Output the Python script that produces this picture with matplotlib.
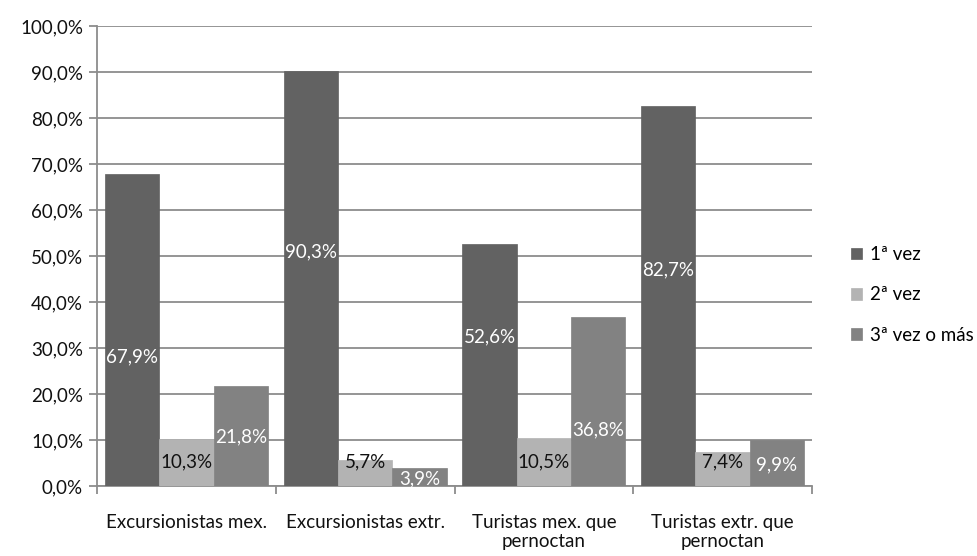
import matplotlib
matplotlib.use("Agg")
import matplotlib.pyplot as plt
import numpy as np

categories = ["Excursionistas mex.", "Excursionistas extr.", "Turistas mex. que\npernoctan", "Turistas extr. que\npernoctan"]
series_names = ["1ª vez", "2ª vez", "3ª vez o más"]
primera = [67.9, 90.3, 52.6, 82.7]
segunda = [10.3, 5.7, 10.5, 7.4]
tercera = [21.8, 3.9, 36.8, 9.9]
yticks = [0, 10, 20, 30, 40, 50, 60, 70, 80, 90, 100]

# label vertical placement (as in reference, data units)
label_pos = [
    [28.0, 51.0, 32.4, 47.0],
    [5.2, 5.2, 5.2, 5.2],
    [10.6, 1.6, 12.2, 4.6],
]

plt.rcParams['font.family'] = ['Lato', 'DejaVu Sans']
FS = 13.5

colors = ["#626262", "#b3b3b3", "#828282"]
label_colors = ["white", "#111111", "white"]

fig = plt.figure(figsize=(9.78, 5.56), dpi=100)
ax = fig.add_axes([97/978, 1 - 486/556, (812-97)/978, (486-26)/556])

x = np.arange(len(categories))
w = 0.304
data = [primera, segunda, tercera]
for i, (vals, name) in enumerate(zip(data, series_names)):
    pos = x + (i - 1) * w
    ax.bar(pos, vals, width=w, color=colors[i], label=name, zorder=3,
           edgecolor=colors[i], linewidth=0.5)
    for j, v in enumerate(vals):
        ax.text(pos[j], label_pos[i][j], f"{v:.1f}%".replace(".", ","),
                ha="center", va="center", color=label_colors[i], fontsize=FS, zorder=4)

ax.set_xlim(-0.5, len(categories) - 0.5)
ax.set_ylim(0, 100)
ax.set_yticks(yticks)
ax.set_yticklabels([f"{t:.1f}%".replace(".", ",") for t in yticks], fontsize=FS, color="#111111")
ax.yaxis.grid(True, color="#8c8c8c", linewidth=1.3, zorder=0)
ax.set_axisbelow(True)

ax.set_xticks(np.arange(len(categories) + 1) - 0.5, minor=False)
ax.set_xticklabels([])
ax.set_xticks(x, minor=True)
ax.set_xticklabels(categories, minor=True, fontsize=FS, color="#111111", linespacing=1.15)
ax.tick_params(axis="x", which="minor", length=0, pad=20)
ax.tick_params(axis="x", which="major", length=6, color="#8c8c8c", width=1.3)
ax.tick_params(axis="y", length=6, color="#8c8c8c", width=1.3, pad=4)

for s in ["top", "right"]:
    ax.spines[s].set_visible(False)
for s in ["left", "bottom"]:
    ax.spines[s].set_color("#8c8c8c")
    ax.spines[s].set_linewidth(1.3)

handles, labels = ax.get_legend_handles_labels()
leg = fig.legend(handles, labels, loc="center left", bbox_to_anchor=(851/978, 1 - 295/556),
                 frameon=False, fontsize=FS, handlelength=0.6, handleheight=0.6,
                 handletextpad=0.4, labelspacing=1.25, borderpad=0, borderaxespad=0)

fig.savefig("out.png", dpi=100)
